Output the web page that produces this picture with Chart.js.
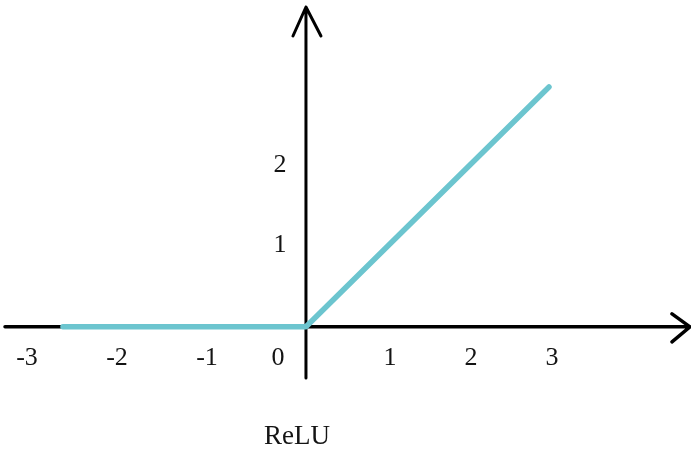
<!DOCTYPE html>
<html>
<head>
<meta charset="utf-8">
<script src="https://cdn.jsdelivr.net/npm/chart.js@4/dist/chart.umd.min.js"></script>
<style>
  html, body { margin: 0; padding: 0; background: #fff; }
  #wrap { width: 691px; height: 459px; }
</style>
</head>
<body>
<div id="wrap"><canvas id="relu" width="691" height="459"></canvas></div>
<script>
// values
const reluX = [-2.7, 0, 3]
const reluY = [0, 0, 3]
const xTicks = [-3, -2, -1, 0, 1, 2, 3]
const xTickLabels = ['-3', '-2', '-1', '0', '1', '2', '3']
const yTicks = [1, 2]
const yTickLabels = ['1', '2']
const chartTitle = 'ReLU'

// the drawing uses a wider unit left of zero than right of it
const NEG_UNIT = 90
const POS_UNIT = 81

class SplitScale extends Chart.LinearScale {
    static id = 'split'
    _parts() {
        const neg = -this.min * NEG_UNIT
        const pos = this.max * POS_UNIT
        const k = (this.right - this.left) / (neg + pos)
        return {k, zero: this.left + neg * k}
    }
    getPixelForValue(value) {
        const {k, zero} = this._parts()
        return zero + value * (value < 0 ? NEG_UNIT : POS_UNIT) * k
    }
    getValueForPixel(pixel) {
        const {k, zero} = this._parts()
        const d = pixel - zero
        return d / ((d < 0 ? NEG_UNIT : POS_UNIT) * k)
    }
}
Chart.register(SplitScale)

// axes with arrow heads, tick labels and the caption underneath
const axesPlugin = {
    id: 'axes',
    beforeDatasetsDraw(chart) {
        const {ctx, chartArea, scales: {x, y}} = chart
        const x0 = x.getPixelForValue(0)
        const y0 = y.getPixelForValue(0)
        ctx.save()
        ctx.strokeStyle = '#000'
        ctx.lineCap = 'round'
        ctx.lineJoin = 'round'

        ctx.lineWidth = 3.5
        ctx.beginPath()
        ctx.moveTo(chartArea.left, y0)
        ctx.lineTo(chartArea.right, y0)
        ctx.moveTo(chartArea.right - 18, y0 - 13)
        ctx.lineTo(chartArea.right, y0)
        ctx.lineTo(chartArea.right - 18, y0 + 15)
        ctx.stroke()

        ctx.lineWidth = 3
        ctx.beginPath()
        ctx.moveTo(x0, chartArea.bottom)
        ctx.lineTo(x0, chartArea.top)
        ctx.moveTo(x0 - 13, chartArea.top + 29)
        ctx.lineTo(x0, chartArea.top)
        ctx.lineTo(x0 + 15, chartArea.top + 29)
        ctx.stroke()

        ctx.fillStyle = '#141414'
        ctx.textAlign = 'center'
        ctx.textBaseline = 'middle'
        ctx.font = '26px "Liberation Serif"'
        xTicks.forEach((v, i) => {
            const dx = v < 0 ? -9 : (v === 0 ? -28 : 3)
            ctx.fillText(xTickLabels[i], x.getPixelForValue(v) + dx, y0 + 31)
        })
        yTicks.forEach((v, i) => {
            ctx.fillText(yTickLabels[i], x0 - 26, y.getPixelForValue(v) - 2)
        })

        ctx.font = '27px "Liberation Serif"'
        ctx.fillText(chartTitle, x0 - 9, chartArea.bottom + 59)
        ctx.restore()
    }
}

const points = reluX.map((v, i) => ({x: v, y: reluY[i]}))

new Chart(document.getElementById('relu'), {
    type: 'line',
    data: {
        datasets: [{
            label: chartTitle,
            data: points,
            borderColor: 'rgb(108, 197, 207)',
            borderWidth: 5.5,
            borderCapStyle: 'round',
            borderJoinStyle: 'round',
            pointRadius: 0,
            tension: 0,
            clip: false
        }]
    },
    options: {
        responsive: false,
        animation: false,
        layout: {padding: {left: 5, right: 1, top: 7, bottom: 81}},
        plugins: {legend: {display: false}, tooltip: {enabled: false}},
        scales: {
            x: {type: 'split', min: -3.344, max: 4.741, display: false},
            y: {type: 'linear', min: -0.64, max: 4.0, display: false}
        }
    },
    plugins: [axesPlugin]
})
</script>
</body>
</html>
